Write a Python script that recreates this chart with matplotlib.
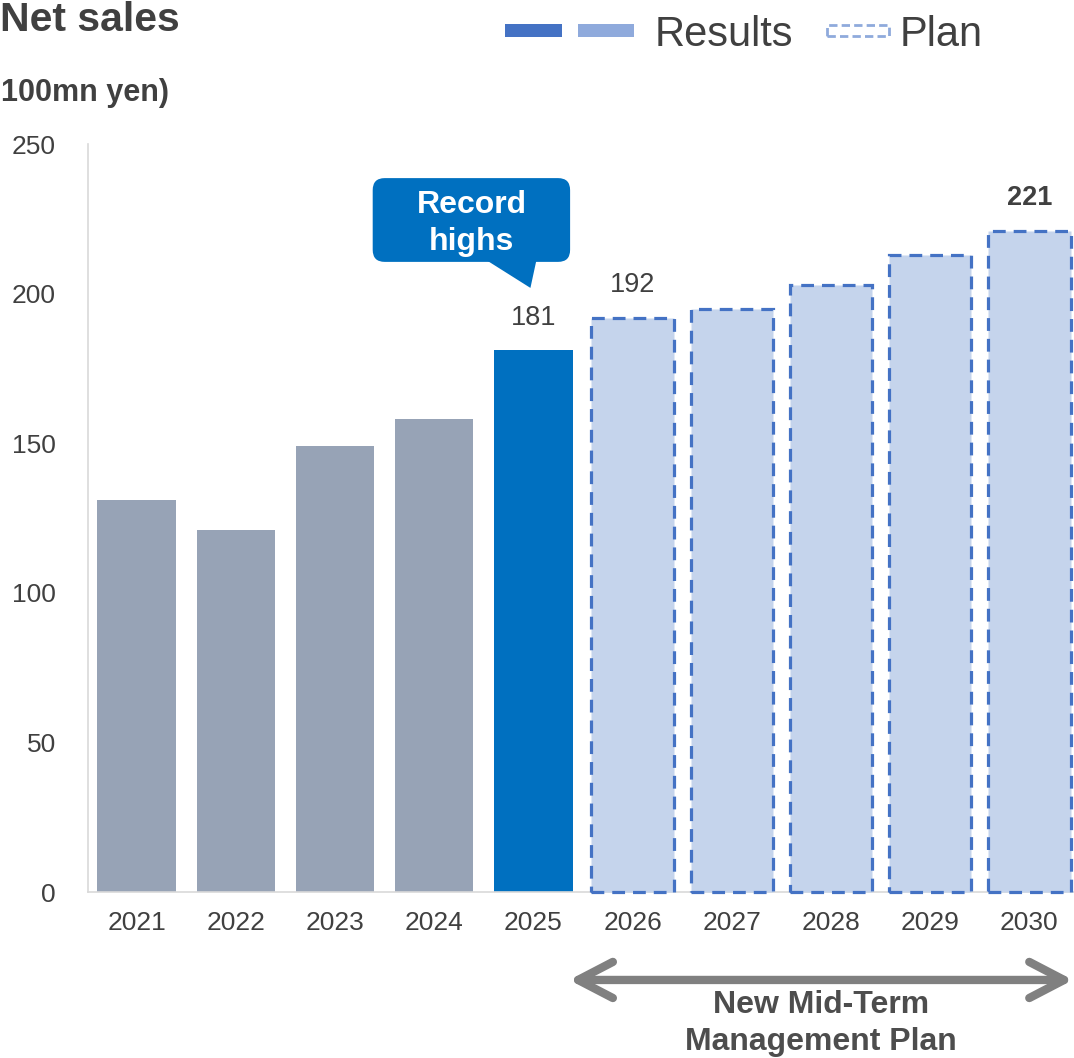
import matplotlib
matplotlib.use("Agg")
import matplotlib.pyplot as plt
from matplotlib.patches import Rectangle, FancyBboxPatch, Polygon
import numpy as np

plt.rcParams['font.family'] = ['Liberation Sans', 'DejaVu Sans']

years = ['2021', '2022', '2023', '2024', '2025', '2026', '2027', '2028', '2029', '2030']
results = [131, 121, 149, 158, 181]
plan = [192, 195, 203, 213, 221]
labelled = {4: 181, 5: 192, 9: 221}
yticks = [0, 50, 100, 150, 200, 250]

GREY = '#97A3B6'
BLUE = '#0070C0'
PLAN_FILL = '#C5D4EC'
PLAN_EDGE = '#4472C4'
TEXT = '#404040'

fig = plt.figure(figsize=(10.74, 10.58), dpi=100)
W, H = 1074, 1058
ax = fig.add_axes([88 / W, 166 / H, 990 / W, 748 / H])

x = np.arange(len(years))
n_res = len(results)
res_colors = [GREY] * (n_res - 1) + [BLUE]
ax.bar(x[:n_res], results, width=0.79, color=res_colors, zorder=2)
ax.bar(x[n_res:], plan, width=0.83, color=PLAN_FILL, edgecolor=PLAN_EDGE,
       linewidth=2.3, linestyle=(0, (4, 2.5)), zorder=3, clip_on=False)

values = results + plan
for i, v in labelled.items():
    ax.annotate(str(v), (x[i], values[i]), xytext=(0, 14), textcoords='offset points',
                ha='center', va='bottom', fontsize=19.5, color=TEXT,
                fontweight='bold' if i == len(years) - 1 else 'normal')

ax.set_xlim(-0.49, 9.49)
ax.set_ylim(0, 250)
ax.set_yticks(yticks)
ax.set_xticks(x)
ax.set_xticklabels(years)
ax.tick_params(axis='y', length=0, pad=23, labelsize=19, labelcolor=TEXT)
ax.tick_params(axis='x', length=0, pad=14, labelsize=19, labelcolor=TEXT)
for s in ['top', 'right']:
    ax.spines[s].set_visible(False)
for s in ['left', 'bottom']:
    ax.spines[s].set_color('#D9D9D9')
    ax.spines[s].set_linewidth(1.2)
ax.spines['bottom'].set_zorder(2.5)

# callout over the 2025 bar
bx0, bx1 = 2.38, 4.37
by0, by1 = 210.6, 238.6
px_x = 99.2
px_y = 2.992
box = FancyBboxPatch((bx0, by0), bx1 - bx0, by1 - by0,
                     boxstyle='round,pad=0,rounding_size=%f' % (12 / px_x),
                     mutation_aspect=px_x / px_y, fc=BLUE, ec='none',
                     clip_on=False, zorder=4)
ax.add_patch(box)
tail = Polygon([(3.53, by0 + 0.5), (4.03, by0 + 0.5), (3.97, 201.9)], closed=True,
               fc=BLUE, ec='none', clip_on=False, zorder=4)
ax.add_patch(tail)
ax.text((bx0 + bx1) / 2, 223.5, 'Record\nhighs', ha='center', va='center',
        fontsize=23, fontweight='bold', color='white', linespacing=1.3, zorder=5)

# span of the mid-term plan
ax.annotate('', xy=(4.36, -0.1176), xytext=(9.44, -0.1176),
            xycoords=('data', 'axes fraction'), textcoords=('data', 'axes fraction'),
            arrowprops=dict(arrowstyle='<->,head_length=1.25,head_width=0.65',
                            lw=6, color='#808080', mutation_scale=20,
                            capstyle='round', joinstyle='round', shrinkA=0, shrinkB=0),
            annotation_clip=False)
ax.text(6.9, -0.1315, 'New Mid-Term\nManagement Plan', transform=ax.get_xaxis_transform(),
        ha='center', va='top', fontsize=23, fontweight='bold', color='#4D4D4D',
        linespacing=1.3)

# titles
fig.text(0, 1 - 31 / H, 'Net sales', fontsize=29.5, fontweight='bold', color=TEXT,
         ha='left', va='baseline')
fig.text(1 / W, 1 - 101 / H, '100mn yen)', fontsize=22, fontweight='bold', color=TEXT,
         ha='left', va='baseline')

# legend
fig.patches.append(Rectangle((505 / W, 1 - 37 / H), 57 / W, 13 / H, fc='#4472C4', ec='none',
                             transform=fig.transFigure, figure=fig))
fig.patches.append(Rectangle((578 / W, 1 - 37 / H), 56 / W, 13 / H, fc='#8FAADC', ec='none',
                             transform=fig.transFigure, figure=fig))
fig.text(655 / W, 1 - 46 / H, 'Results', fontsize=30, color=TEXT, ha='left', va='baseline')
fig.patches.append(Rectangle((827 / W, 1 - 36 / H), 62 / W, 11 / H, fc='white', ec='#8FAADC',
                             lw=2, linestyle=(0, (3, 1.5)),
                             transform=fig.transFigure, figure=fig))
fig.text(900 / W, 1 - 46 / H, 'Plan', fontsize=30, color=TEXT, ha='left', va='baseline')

fig.savefig('out.png', dpi=100)
